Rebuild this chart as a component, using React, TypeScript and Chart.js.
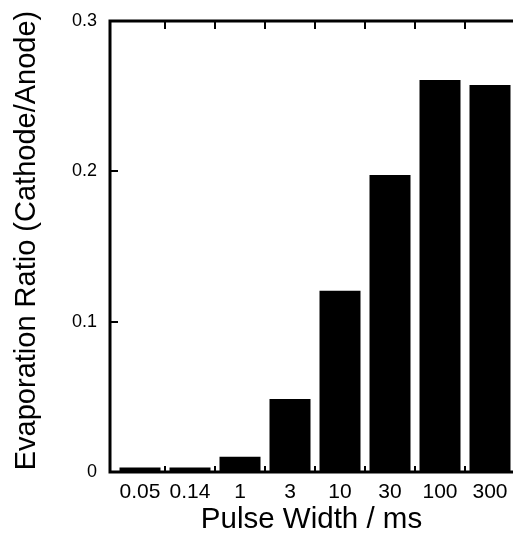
import React, { useEffect, useRef } from 'react';
import { Chart, registerables } from 'chart.js';

Chart.register(...registerables);

const categories = ['0.05', '0.14', '1', '3', '10', '30', '100', '300'];
const ratios = [0.003, 0.003, 0.0102, 0.0486, 0.1206, 0.1976, 0.2608, 0.2575];
const yTickValues = [0, 0.1, 0.2, 0.3];
const yTickLabels = ['0', '0.1', '0.2', '0.3'];
const xTitle = 'Pulse Width / ms';
const yTitle = 'Evaporation Ratio (Cathode/Anode)';

const FONT = '"Liberation Sans", Arial, Helvetica, sans-serif';

const framePlugin = {
  id: 'frame',
  afterDraw(chart: any) {
    const { ctx, chartArea: a, scales } = chart;
    const xs = scales.x;
    const ys = scales.y;
    ctx.save();
    ctx.strokeStyle = '#000';
    ctx.lineWidth = 3;
    ctx.beginPath();
    ctx.moveTo(a.left, a.bottom);
    ctx.lineTo(a.left, a.top);
    ctx.lineTo(chart.width, a.top);
    ctx.moveTo(a.left - 1.5, a.bottom);
    ctx.lineTo(chart.width, a.bottom);
    ctx.stroke();
    ctx.lineWidth = 2;
    ctx.beginPath();
    for (let i = 0; i < categories.length - 1; i++) {
      const px = Math.round(xs.getPixelForValue(i + 0.5));
      ctx.moveTo(px, a.top);
      ctx.lineTo(px, a.top + 8);
      ctx.moveTo(px, a.bottom);
      ctx.lineTo(px, a.bottom - 6);
    }
    for (const v of yTickValues.slice(1, -1)) {
      const py = Math.round(ys.getPixelForValue(v));
      ctx.moveTo(a.left, py);
      ctx.lineTo(a.left + 8, py);
    }
    ctx.stroke();
    // y-axis title
    ctx.fillStyle = '#000';
    ctx.font = `29px ${FONT}`;
    ctx.textAlign = 'center';
    ctx.textBaseline = 'alphabetic';
    ctx.translate(35, (a.top + a.bottom) / 2 - 6);
    ctx.rotate(-Math.PI / 2);
    ctx.fillText(yTitle, 0, 0);
    ctx.restore();
  },
};

export default function App() {
  const ref = useRef<HTMLCanvasElement | null>(null);
  useEffect(() => {
    if (!ref.current) return;
    const chart = new Chart(ref.current, {
      type: 'bar',
      data: {
        datasets: [
          {
            data: ratios.map((v, i) => ({ x: i, y: v })),
            backgroundColor: '#000',
            borderWidth: 0,
            categoryPercentage: 1,
            barPercentage: 0.82,
          },
        ],
      },
      options: {
        animation: false,
        responsive: false,
        devicePixelRatio: 1,
        layout: { padding: { top: 21, right: 0, left: 0, bottom: 0 } },
        plugins: { legend: { display: false }, tooltip: { enabled: false } },
        scales: {
          x: {
            type: 'linear',
            offset: false,
            min: -0.6,
            max: 7.46,
            grid: { display: false, drawTicks: false, offset: false },
            border: { display: false },
            afterBuildTicks: (s: any) => {
              s.ticks = categories.map((_, i) => ({ value: i }));
            },
            afterFit: (s: any) => {
              s.height = 67;
              s.paddingLeft = 0;
              s.paddingRight = 0;
            },
            ticks: {
              autoSkip: false,
              maxRotation: 0,
              padding: 8,
              color: '#000',
              font: { family: FONT, size: 21 },
              callback: (_v: any, i: number) => categories[i],
            },
            title: {
              display: true,
              text: xTitle,
              color: '#000',
              font: { family: FONT, size: 29.5 },
              padding: { top: 0, bottom: 1 },
            },
          },
          y: {
            type: 'linear',
            min: 0,
            max: 0.3,
            grid: { display: false, drawTicks: false },
            border: { display: false },
            afterBuildTicks: (s: any) => {
              s.ticks = yTickValues.map((v) => ({ value: v }));
            },
            afterFit: (s: any) => {
              s.width = 110;
              s.paddingTop = 0;
              s.paddingBottom = 0;
            },
            ticks: {
              padding: 13,
              color: '#000',
              font: { family: FONT, size: 18 },
              callback: (_v: any, i: number) => yTickLabels[i],
            },
            title: { display: false },
          },
        },
      },
      plugins: [framePlugin],
    } as any);
    return () => chart.destroy();
  }, []);
  return (
    <div style={{ position: 'absolute', left: 0, top: 0, width: 513, height: 539, background: '#fff' }}>
      <canvas ref={ref} width={513} height={539} style={{ display: 'block' }} />
    </div>
  );
}
